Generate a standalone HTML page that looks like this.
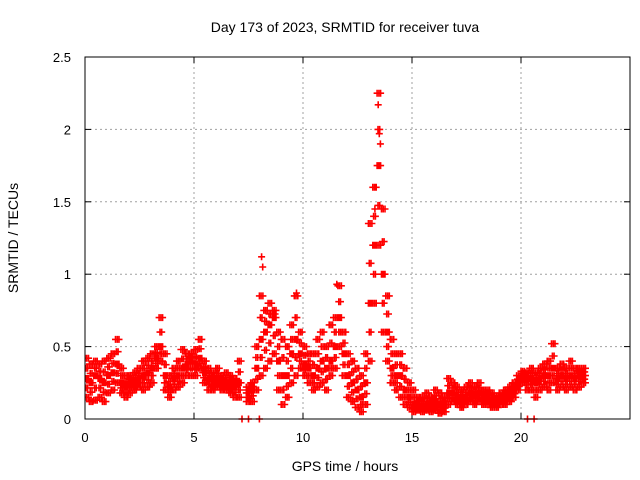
<!DOCTYPE html>
<html><head><meta charset="utf-8"><style>
body{margin:0;background:#fff}
svg{display:block;font-family:"Liberation Sans",sans-serif}
</style></head><body>
<svg id="chart" width="640" height="480">
<text x="345" y="32" text-anchor="middle" font-size="14">Day 173 of 2023, SRMTID for receiver tuva</text>
<text transform="translate(18,238) rotate(-90)" text-anchor="middle" font-size="14">SRMTID / TECUs</text>
<text x="345" y="471" text-anchor="middle" font-size="14">GPS time / hours</text>
<g id="grid"></g>
<g id="ticks"></g>
<g id="marks"></g>
<rect x="85" y="57" width="545" height="362" fill="none" stroke="#000" stroke-width="1"/>
</svg>
<script>
const xTicks=[0,5,10,15,20];
const yTicks=[0,0.5,1,1.5,2,2.5];
const yTickLabels=["0","0.5","1","1.5","2","2.5"];
const times=[0,0.2,0.4,0.6,0.8,1.0,1.2,1.4,1.6,1.8,2.0,2.2,2.4,2.6,2.8,3.0,3.2,3.4,3.6,3.8,4.0,4.2,4.4,4.6,4.8,5.0,5.2,5.4,5.6,5.8,6.0,6.2,6.4,6.6,6.8,7.0,7.4,7.6,7.8,8.0,8.2,8.4,8.6,8.8,9.0,9.2,9.4,9.6,9.8,10.0,10.2,10.4,10.6,10.8,11.0,11.2,11.4,11.6,11.8,12.0,12.2,12.4,12.6,12.8,13.0,13.2,13.4,13.6,13.8,14.0,14.2,14.4,14.6,14.8,15.0,15.2,15.4,15.6,15.8,16.0,16.2,16.4,16.6,16.8,17.0,17.2,17.4,17.6,17.8,18.0,18.2,18.4,18.6,18.8,19.0,19.2,19.4,19.6,19.8,20.0,20.2,20.4,20.6,20.8,21.0,21.2,21.4,21.6,21.8,22.0,22.2,22.4,22.6,22.8];
const lowVals=[.15,.12,.13,.15,.12,.18,.2,.25,.18,.15,.18,.2,.22,.2,.22,.25,.35,.4,.2,.15,.2,.22,.25,.3,.3,.3,.35,.25,.2,.2,.22,.2,.2,.18,.15,.15,.12,.12,.2,.3,.35,.4,.45,.2,.1,.15,.25,.3,.35,.3,.25,.2,.22,.25,.2,.3,.35,.5,.3,.15,.12,.08,.05,.1,.4,.8,1.2,.6,.4,.25,.2,.15,.1,.08,.05,.06,.05,.06,.05,.06,.04,.05,.1,.12,.1,.08,.1,.12,.1,.12,.1,.1,.08,.08,.1,.1,.12,.15,.2,.25,.2,.2,.15,.2,.22,.2,.25,.2,.22,.2,.22,.2,.22,.25];
const midVals=[.28,.25,.3,.28,.25,.3,.32,.38,.25,.22,.25,.25,.28,.3,.32,.35,.42,.5,.3,.22,.28,.3,.35,.38,.4,.38,.42,.32,.28,.26,.28,.25,.25,.24,.22,.25,.18,.2,.35,.55,.6,.65,.7,.4,.3,.3,.45,.55,.45,.38,.35,.3,.35,.4,.35,.4,.5,.7,.45,.3,.25,.2,.15,.25,.8,1.2,1.75,1.0,.6,.35,.3,.3,.2,.15,.1,.1,.09,.1,.1,.12,.1,.1,.18,.18,.15,.14,.15,.18,.16,.18,.14,.15,.12,.12,.14,.15,.17,.2,.25,.3,.27,.28,.25,.28,.3,.3,.35,.28,.3,.28,.3,.28,.3,.3];
const highVals=[.42,.38,.4,.38,.4,.42,.45,.55,.35,.3,.3,.32,.35,.4,.42,.45,.5,.7,.45,.3,.35,.4,.48,.45,.45,.48,.55,.4,.35,.32,.35,.3,.32,.3,.28,.4,.22,.25,.5,.85,.75,.8,.75,.6,.55,.5,.65,.85,.6,.5,.45,.45,.55,.6,.5,.65,.7,.92,.6,.45,.4,.35,.3,.45,1.35,1.6,2.25,1.45,.85,.55,.45,.45,.35,.25,.2,.15,.15,.18,.15,.2,.18,.15,.28,.25,.22,.2,.22,.25,.22,.25,.2,.2,.18,.16,.18,.2,.22,.25,.3,.33,.32,.35,.32,.35,.38,.4,.52,.35,.38,.35,.4,.35,.35,.35];
const extraTimes=[8.1,8.15,13.45,13.5,13.55,13.35,13.3,7.2,7.5,8.0,20.3,20.6,11.55,9.7];
const extraVals=[1.12,1.05,2.17,1.97,1.9,1.6,1.45,0,0,0,0,0,0.93,0.87];
const X=t=>85+t*545/25, Y=v=>419-v*362/2.5;
const NS="http://www.w3.org/2000/svg";
const grid=document.getElementById('grid'),ticks=document.getElementById('ticks'),marks=document.getElementById('marks');
function line(p,x1,y1,x2,y2,st,dash){const l=document.createElementNS(NS,'line');l.setAttribute('x1',x1);l.setAttribute('y1',y1);l.setAttribute('x2',x2);l.setAttribute('y2',y2);l.setAttribute('stroke',st);if(dash)l.setAttribute('stroke-dasharray',dash);p.appendChild(l);return l;}
function text(p,x,y,s,anc){const t=document.createElementNS(NS,'text');t.setAttribute('x',x);t.setAttribute('y',y);t.setAttribute('font-size','13');t.setAttribute('text-anchor',anc);t.textContent=s;p.appendChild(t);return t;}
xTicks.forEach(v=>{const x=X(v);
 if(v>0){const g=line(grid,x,57,x,419,'#a0a0a0','2,3');}
 line(ticks,x,419,x,413,'#000');line(ticks,x,57,x,63,'#000');
 const t=text(ticks,x,442,String(v),'middle');
 
 });
yTicks.forEach((v,i)=>{const y=Y(v);
 if(v>0&&v<2.5){const g=line(grid,85,y,630,y,'#a0a0a0','2,3');}
 line(ticks,85,y,91,y,'#000');line(ticks,630,y,624,y,'#000');
 const t=text(ticks,71,y+5,yTickLabels[i],'end');
 
 });
let d='';
function plus(t,v){const x=X(t),y=Y(v);d+=`M${(x-3.5).toFixed(1)} ${y.toFixed(1)}h7M${x.toFixed(1)} ${(y-3.5).toFixed(1)}v7`;}
const offs=[0,0.04,0.08,0.12,0.16];
times.forEach((t,i)=>{const lo=lowVals[i],mi=midVals[i],hi=highVals[i];
 const lv=[lo,(lo+mi)/2,mi,(mi+hi)/2,hi];
 offs.forEach((o,j)=>{lv.forEach((v,k)=>{ if((j+k)%2===0||k===2) plus(t+o,v);});});
});
extraTimes.forEach((t,i)=>plus(t,extraVals[i]));
const p=document.createElementNS(NS,'path');
p.setAttribute('d',d);p.setAttribute('stroke','#f00');p.setAttribute('stroke-width','1.6');p.setAttribute('fill','none');


const cp=document.createElementNS(NS,'clipPath');cp.id='clip';const r=document.createElementNS(NS,'rect');r.setAttribute('x',85);r.setAttribute('y',57);r.setAttribute('width',545);r.setAttribute('height',366);cp.appendChild(r);document.getElementById('chart').appendChild(cp);
marks.setAttribute('clip-path','url(#clip)');
marks.appendChild(p);
</script>
</body></html>
